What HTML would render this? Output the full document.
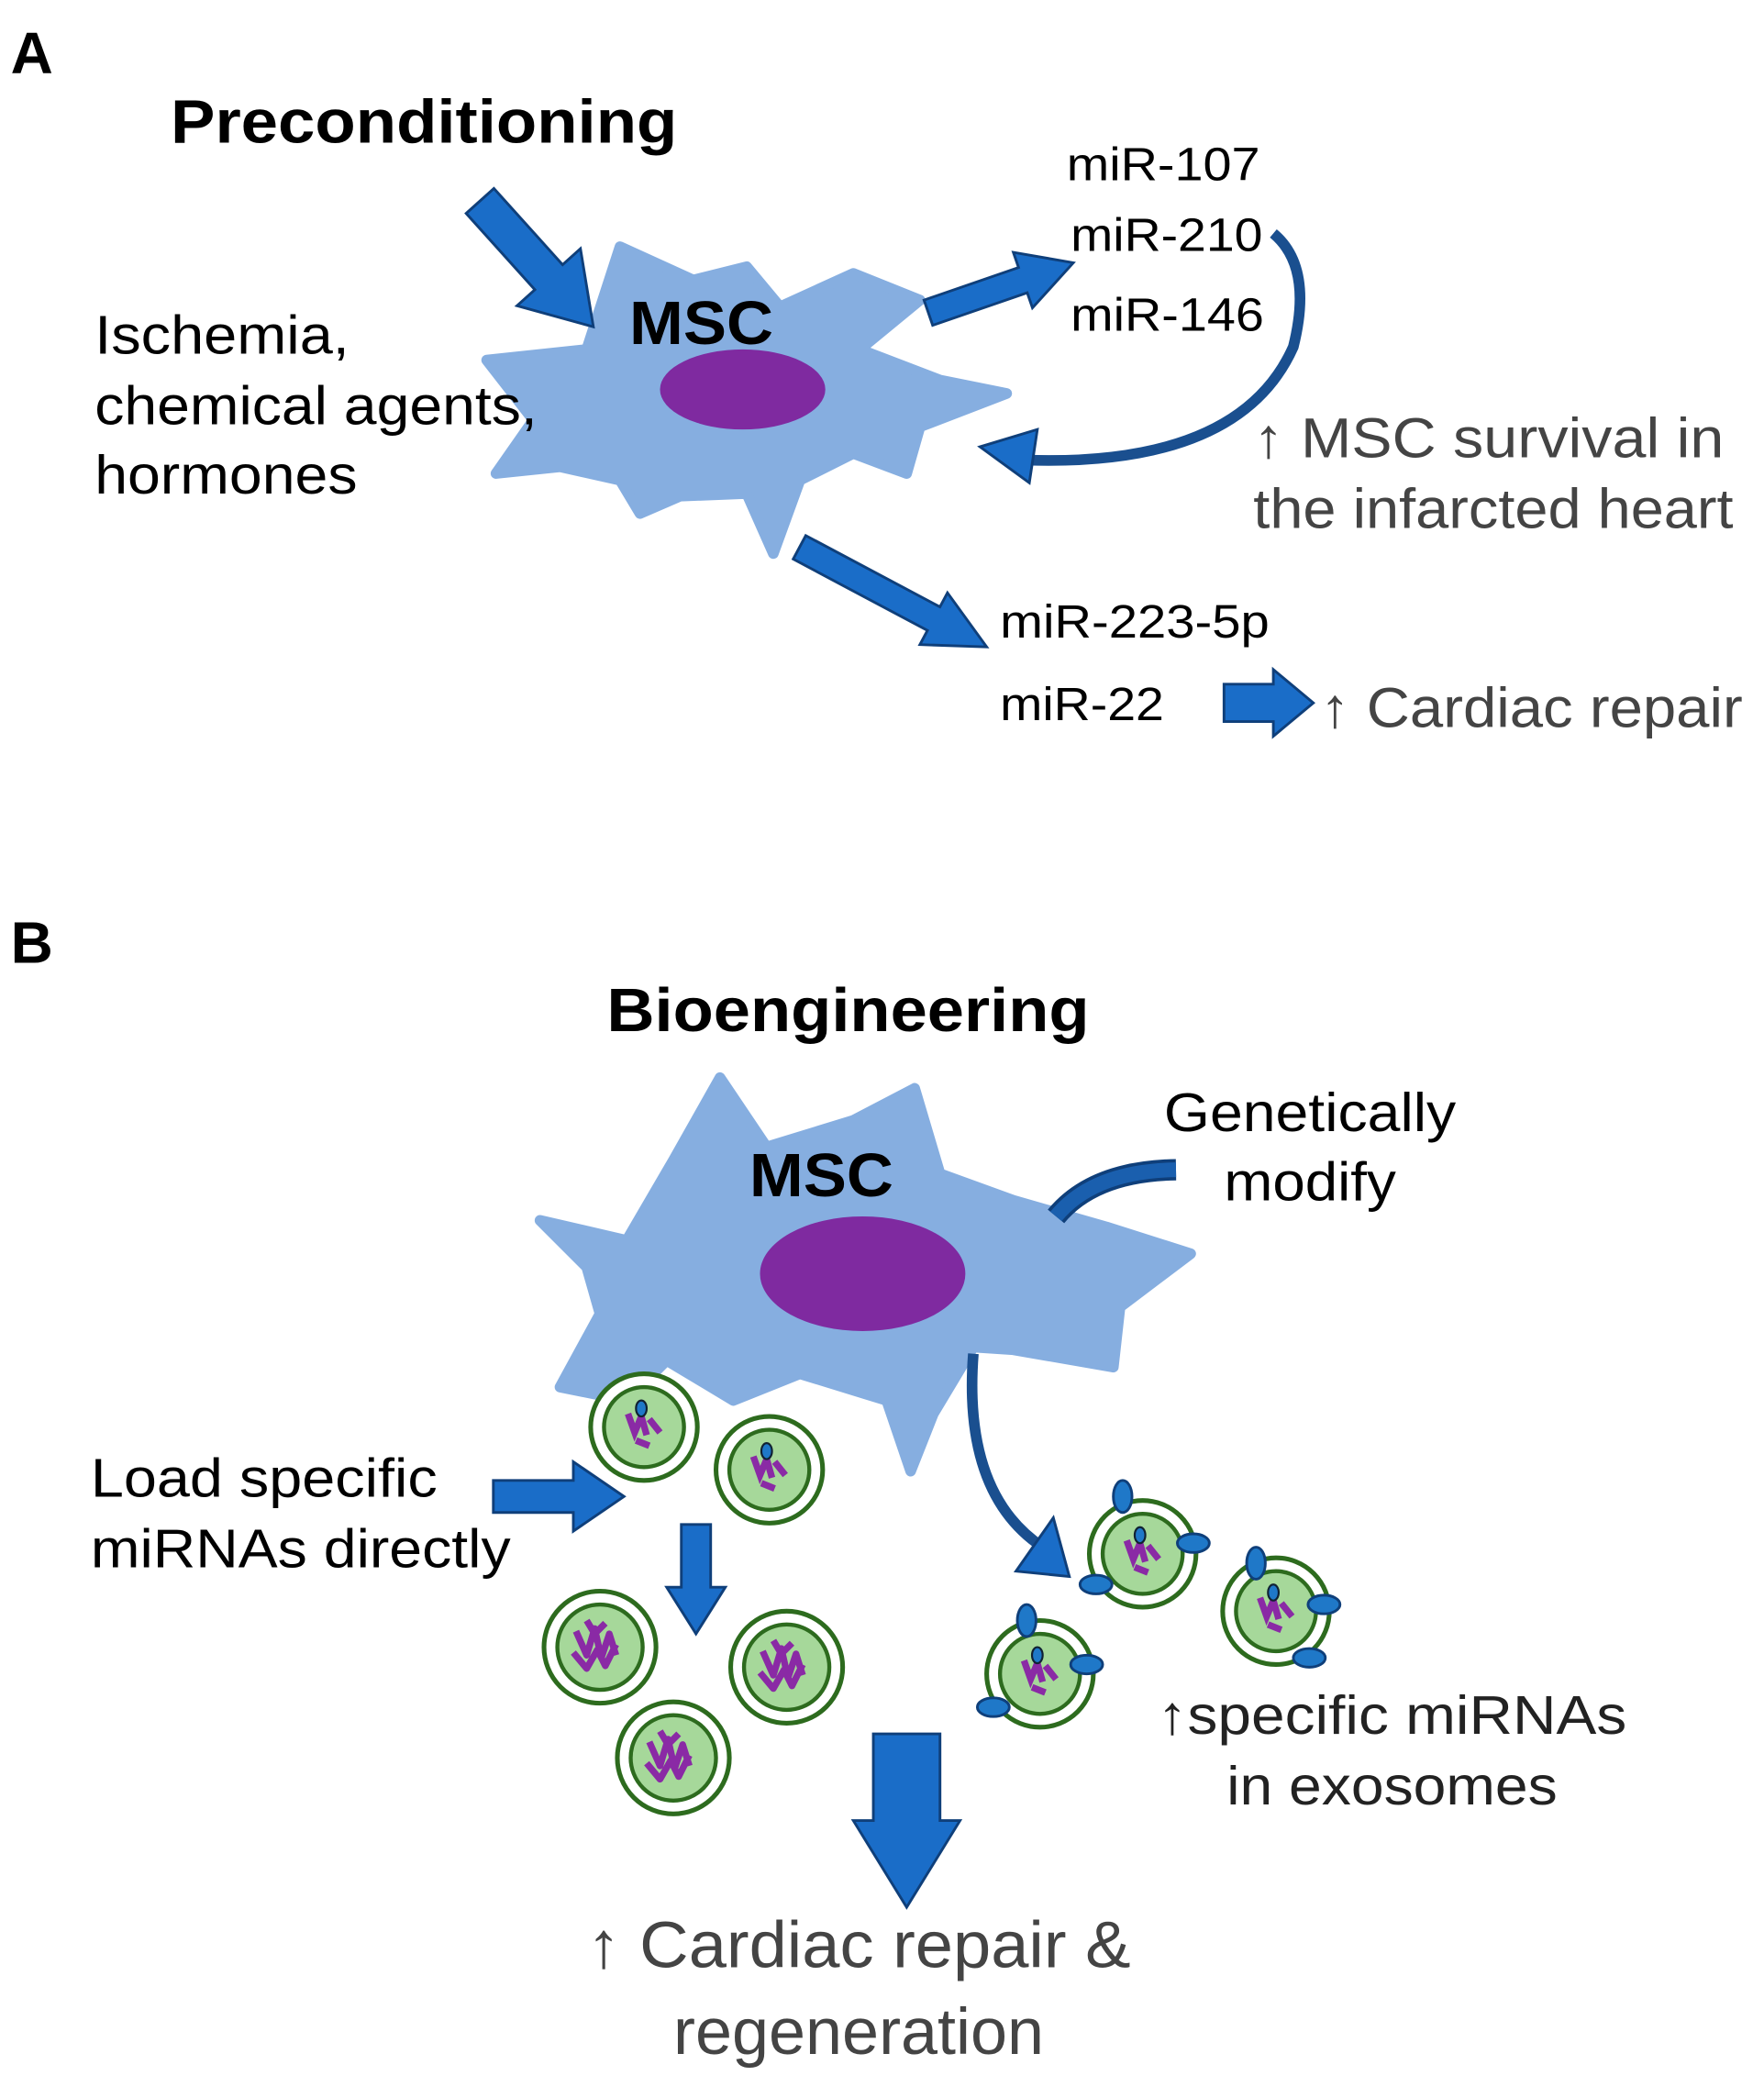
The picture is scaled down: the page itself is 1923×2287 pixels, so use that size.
<!DOCTYPE html>
<html><head><meta charset="utf-8"><style>html,body{margin:0;padding:0;background:#fff}svg{display:block}</style></head><body>
<svg width="1923" height="2287" viewBox="0 0 1323 1573" preserveAspectRatio="none" xmlns="http://www.w3.org/2000/svg" font-family="Liberation Sans, Arial, sans-serif">
<defs>
<g id="ves">
<circle r="42" fill="#fff" stroke="#2d6b1e" stroke-width="3.5"/>
<circle r="32" fill="#a6d89a" stroke="#2d6b1e" stroke-width="3"/>
<path d="M-18,-12 l8,18 l6,-20 l5,22 l6,-18 l5,16 M-20,4 l10,12 l8,-14 l6,12 l8,-16 M-10,-20 l6,10 l8,-8" stroke="#8a2aa5" stroke-width="5" fill="none" stroke-linejoin="round"/>
</g>
<g id="vesS">
<circle r="40" fill="#fff" stroke="#2d6b1e" stroke-width="3.5"/>
<circle r="30" fill="#a6d89a" stroke="#2d6b1e" stroke-width="3"/>
<path d="M-12,-10 l5,14 l5,-12 l4,14 M4,-6 l8,10 M-6,10 l10,4" stroke="#8a2aa5" stroke-width="5" fill="none"/>
<ellipse cx="-2" cy="-14" rx="4" ry="6" fill="#1f78c8" stroke="#123" stroke-width="1.5"/>
</g>
</defs>
<g lengthAdjust="spacingAndGlyphs">
<text x="8" y="55" font-size="44" font-weight="bold">A</text>
<text x="128" y="107" font-size="46" font-weight="bold" textLength="380" lengthAdjust="spacingAndGlyphs">Preconditioning</text>
<polygon points="365,270 440,262 465,185 520,210 560,200 585,230 640,205 690,225 645,262 705,285 755,295 690,320 680,355 640,340 600,360 580,415 560,370 510,372 480,385 465,360 420,350 372,355 400,315" fill="#86aee0" stroke="#86aee0" stroke-width="8" stroke-linejoin="round"/>
<ellipse cx="557" cy="292" rx="62" ry="30" fill="#7f2aa0"/>
<text x="472" y="258" font-size="46" font-weight="bold" textLength="108" lengthAdjust="spacingAndGlyphs">MSC</text>
<g font-size="41"><text x="71" y="265" textLength="191" lengthAdjust="spacingAndGlyphs">Ischemia,</text><text x="71" y="318" textLength="332" lengthAdjust="spacingAndGlyphs">chemical agents,</text><text x="71" y="370" textLength="197" lengthAdjust="spacingAndGlyphs">hormones</text></g>
<g fill="#1a6dc8" stroke="#0f3f7a" stroke-width="2">
<polygon transform="translate(445,245) rotate(48)" points="0,0 -50,32 -50,14 -127,14 -127,-14 -50,-14 -50,-32"/>
<polygon transform="translate(805,197) rotate(-19)" points="0,0 -40,22 -40,10 -115,10 -115,-10 -40,-10 -40,-22"/>
<polygon transform="translate(740,485) rotate(28)" points="0,0 -45,22 -45,10 -159,10 -159,-10 -45,-10 -45,-22"/>
<polygon transform="translate(985,527)" points="0,0 -30,25 -30,14 -67,14 -67,-14 -30,-14 -30,-25"/>
<polygon transform="translate(468,1122)" points="0,0 -38,26 -38,12 -98,12 -98,-12 -38,-12 -38,-26"/>
<polygon transform="translate(522,1225) rotate(90)" points="0,0 -35,22 -35,11 -82,11 -82,-11 -35,-11 -35,-22"/>
<polygon transform="translate(680,1430) rotate(90)" points="0,0 -65,40 -65,25 -130,25 -130,-25 -65,-25 -65,-40"/>
</g>
<g font-size="35"><text x="800" y="135" textLength="145" lengthAdjust="spacingAndGlyphs">miR-107</text><text x="803" y="188" textLength="144" lengthAdjust="spacingAndGlyphs">miR-210</text><text x="803" y="248" textLength="145" lengthAdjust="spacingAndGlyphs">miR-146</text>
<text x="750" y="478" textLength="202" lengthAdjust="spacingAndGlyphs">miR-223-5p</text><text x="750" y="540" textLength="123" lengthAdjust="spacingAndGlyphs">miR-22</text></g>
<path d="M955,175 Q985,200 970,260 Q930,350 770,345" stroke="#1a4f8f" stroke-width="8" fill="none"/>
<polygon points="735,335 778,322 772,362" fill="#1a6dc8" stroke="#0f3f7a" stroke-width="2"/>
<g font-size="42" fill="#444"><text x="940" y="343" textLength="353" lengthAdjust="spacingAndGlyphs">↑ MSC survival in</text><text x="940" y="396" textLength="360" lengthAdjust="spacingAndGlyphs">the infarcted heart</text><text x="990" y="545" textLength="317" lengthAdjust="spacingAndGlyphs">↑ Cardiac repair</text></g>
<text x="8" y="722" font-size="44" font-weight="bold">B</text>
<text x="455" y="773" font-size="46" font-weight="bold" textLength="362" lengthAdjust="spacingAndGlyphs">Bioengineering</text>
<polygon points="405,915 470,930 505,870 540,808 575,860 640,840 686,816 705,880 760,900 830,920 893,940 840,980 835,1025 760,1012 730,1010 700,1060 683,1103 665,1050 600,1030 550,1050 500,1020 470,1050 420,1040 450,985 440,950" fill="#86aee0" stroke="#86aee0" stroke-width="8" stroke-linejoin="round"/>
<ellipse cx="647" cy="955" rx="77" ry="43" fill="#7f2aa0"/>
<text x="562" y="897" font-size="46" font-weight="bold" textLength="108" lengthAdjust="spacingAndGlyphs">MSC</text>
<g font-size="41"><text x="873" y="848" textLength="219" lengthAdjust="spacingAndGlyphs">Genetically</text><text x="918" y="900" textLength="129" lengthAdjust="spacingAndGlyphs">modify</text>
<text x="68" y="1122" textLength="260" lengthAdjust="spacingAndGlyphs">Load specific</text><text x="68" y="1175" textLength="315" lengthAdjust="spacingAndGlyphs">miRNAs directly</text></g>
<path d="M882,877 Q820,878 792,912" stroke="#0f3f7a" stroke-width="16" fill="none"/>
<path d="M882,877 Q820,878 792,912" stroke="#1a5fae" stroke-width="11" fill="none"/>
<path d="M730,1015 Q722,1120 782,1160" stroke="#1a4f8f" stroke-width="8" fill="none"/>
<polygon points="802,1182 762,1178 790,1138" fill="#1a6dc8" stroke="#0f3f7a" stroke-width="2"/>
<use href="#vesS" x="483" y="1070"/><use href="#vesS" x="577" y="1102"/>
<use href="#ves" x="450" y="1235"/><use href="#ves" x="590" y="1250"/><use href="#ves" x="505" y="1318"/>
<g fill="#1f78c8" stroke="#0f3f7a" stroke-width="2">
<use href="#vesS" x="857" y="1165"/><use href="#vesS" x="957" y="1208"/><use href="#vesS" x="780" y="1255"/>
<ellipse cx="842" cy="1122" rx="7" ry="12"/><ellipse cx="895" cy="1157" rx="12" ry="7"/><ellipse cx="822" cy="1188" rx="12" ry="7"/>
<ellipse cx="942" cy="1172" rx="7" ry="12"/><ellipse cx="993" cy="1203" rx="12" ry="7"/><ellipse cx="982" cy="1243" rx="12" ry="7"/>
<ellipse cx="770" cy="1215" rx="7" ry="12"/><ellipse cx="815" cy="1248" rx="12" ry="7"/><ellipse cx="745" cy="1280" rx="12" ry="7"/>
</g>
<g font-size="41" fill="#222"><text x="868" y="1300" textLength="352" lengthAdjust="spacingAndGlyphs">↑specific miRNAs</text><text x="920" y="1353" textLength="248" lengthAdjust="spacingAndGlyphs">in exosomes</text></g>
<g font-size="49" fill="#444"><text x="440" y="1475" textLength="408" lengthAdjust="spacingAndGlyphs">↑ Cardiac repair &amp;</text><text x="505" y="1540" textLength="278" lengthAdjust="spacingAndGlyphs">regeneration</text></g>
</g>
</svg>
</body></html>
